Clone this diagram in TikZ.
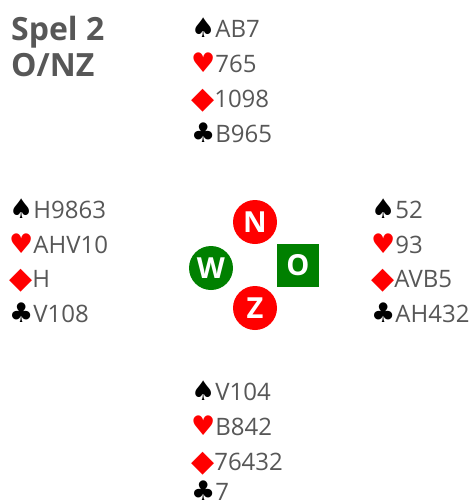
\documentclass[tikz,border=0pt]{standalone}
\usepackage{fontspec}
\setmainfont{Open Sans}
\newfontfamily\symfont{DejaVu Sans}
\definecolor{txt}{HTML}{575757}
\definecolor{seatred}{HTML}{FF0000}
\definecolor{seatgreen}{HTML}{008000}
\newcommand{\symsz}{\fontsize{27}{30}\selectfont}
\newcommand{\Sp}{{\symfont\symsz\color{black}♠}}
\newcommand{\He}{{\symfont\symsz\color{seatred}♥}}
\newcommand{\Di}{{\symfont\fontsize{30}{30}\selectfont\color{seatred}\raisebox{-1pt}{◆}}}
\newcommand{\Cl}{{\symfont\symsz\color{black}♣}}
\tikzset{
  hand/.style={anchor=base west, inner sep=0pt, text=txt, font=\fontsize{24}{28}\selectfont},
  title/.style={anchor=base west, inner sep=0pt, text=txt, font=\fontsize{32}{36}\selectfont\bfseries},
  seatc/.style={circle, fill=#1, minimum size=44pt, inner sep=0pt, text=white, font=\fontsize{29}{30}\selectfont\bfseries},
  seats/.style={rectangle, fill=#1, minimum width=42pt, minimum height=43pt, inner sep=0pt, text=white, font=\fontsize{29}{30}\selectfont\bfseries},
}
\begin{document}
\begin{tikzpicture}[x=1pt,y=-1pt]
\useasboundingbox (0,0) rectangle (476,504);
% title
\node[title] (t1) at (11,40) {Spel 2};
\node[title] (t2) at (11,76) {O/NZ};
% north
\node[hand] (n1) at (191,37) {\Sp AB7};
\node[hand] (n2) at (191,72) {\He 765};
\node[hand] (n3) at (191,107) {\Di 1098};
\node[hand] (n4) at (191,142) {\Cl B965};
% west
\node[hand] (w1) at (9,218) {\Sp H9863};
\node[hand] (w2) at (9,253) {\He AHV10};
\node[hand] (w3) at (9,287) {\Di H};
\node[hand] (w4) at (9,322) {\Cl V108};
% east
\node[hand] (e1) at (371,218) {\Sp 52};
\node[hand] (e2) at (371,253) {\He 93};
\node[hand] (e3) at (371,287) {\Di AVB5};
\node[hand] (e4) at (371,322) {\Cl AH432};
% south
\node[hand] (s1) at (191,400) {\Sp V104};
\node[hand] (s2) at (191,435) {\He B842};
\node[hand] (s3) at (191,470) {\Di 76432};
\node[hand] (s4) at (191,500) {\Cl 7};
% compass
\node[seatc=seatred] (N) at (255,222) {N};
\node[seatc=seatgreen] (W) at (211,268) {W};
\node[seats=seatgreen] (O) at (298,265) {O};
\node[seatc=seatred] (Z) at (255,308) {Z};
\end{tikzpicture}
\end{document}
